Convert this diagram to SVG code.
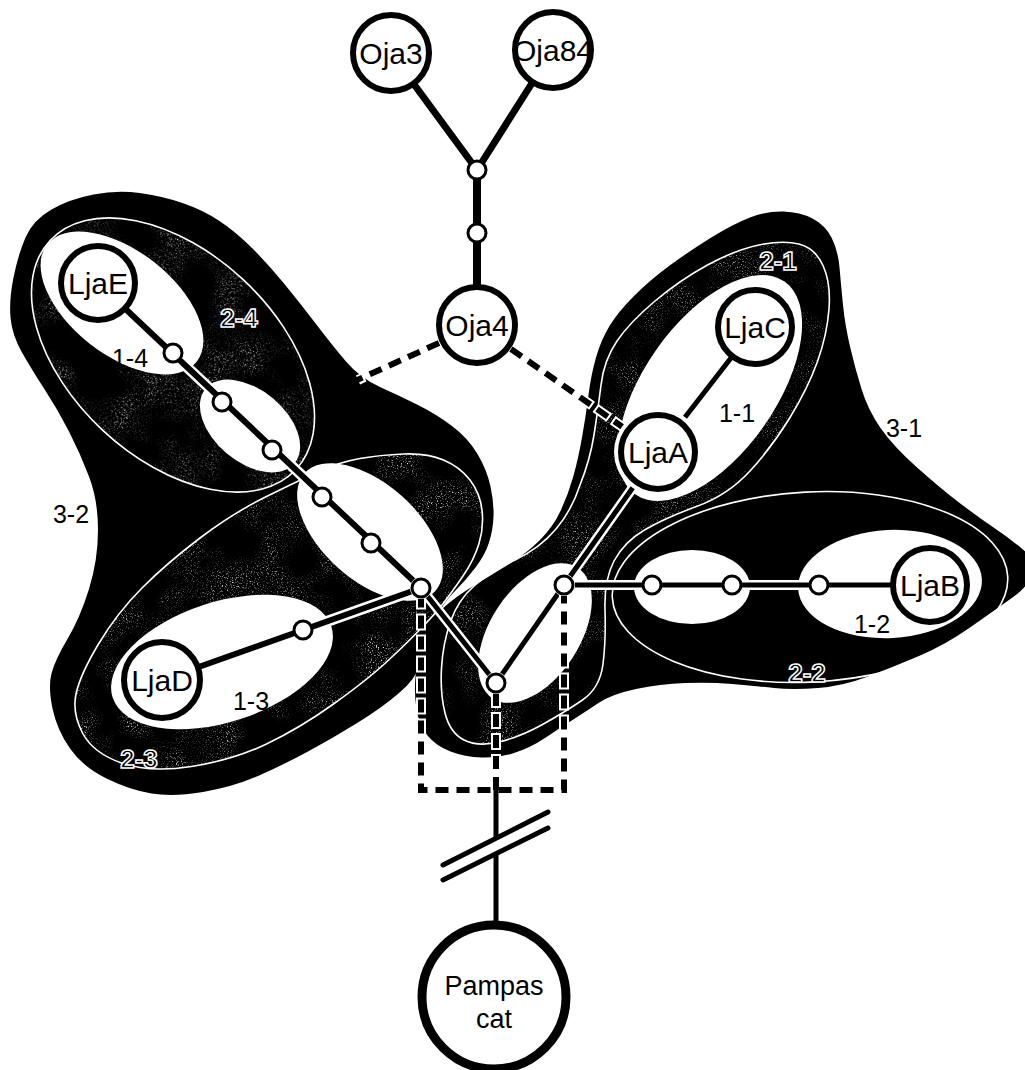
<svg xmlns="http://www.w3.org/2000/svg" width="1025" height="1070" viewBox="0 0 1025 1070">
  <defs>
    <style>
      .blob { fill: #000; }
      .grain { fill: #000; filter: url(#grain); opacity: 0.9; }
      .ring { fill: none; stroke: #fff; stroke-width: 1.6; }
      .hole { fill: #fff; }
      .casing { fill: none; stroke: #fff; stroke-linecap: round; stroke-linejoin: round; }
      .edge { fill: none; stroke: #000; stroke-linecap: round; stroke-linejoin: round; }
      .dash-case { fill: none; stroke: #fff; stroke-width: 10; stroke-dasharray: 17 4; }
      .dash { fill: none; stroke: #000; stroke-width: 6; stroke-dasharray: 13 8; }
      .node circle.body { fill: #fff; stroke: #000; stroke-width: 6; }
      .node circle.halo { fill: #fff; }
      .dot { fill: #fff; stroke: #000; stroke-width: 3; }
      .dothalo { fill: #fff; }
      text { font-family: "Liberation Sans", Arial, sans-serif; fill: #000; text-anchor: middle; }
      .name { font-size: 30px; }
      .lab { font-size: 25px; }
      .lab2 { font-size: 26px; font-weight: bold; fill: #000; stroke: #fff; stroke-width: 1.5; }
      .pc { font-size: 27px; }
    </style>
    <!-- patchy speckle used inside the second-level clades -->
    <filter id="grain" filterUnits="userSpaceOnUse" x="0" y="0" width="1025" height="1070">
      <feTurbulence type="fractalNoise" baseFrequency="0.8" numOctaves="2" seed="7" result="fine"/>
      <feColorMatrix in="fine" type="matrix" values="0 0 0 0 1  0 0 0 0 1  0 0 0 0 1  4 0 0 0 -2.2" result="dots"/>
      <feTurbulence type="fractalNoise" baseFrequency="0.025" numOctaves="2" seed="3" result="coarse"/>
      <feColorMatrix in="coarse" type="matrix" values="0 0 0 0 0  0 0 0 0 0  0 0 0 0 0  3 0 0 0 -1.2" result="mask"/>
      <feComposite in="dots" in2="mask" operator="in" result="patchy"/>
      <feComposite in="patchy" in2="SourceAlpha" operator="in"/>
    </filter>
  </defs>

  <rect width="1025" height="1070" fill="#fff"/>

  <!-- clade 3-2: outer black body of the left group -->
  <g id="clade-3-2">
    <path class="blob" d="M 25.5 237.5 Q 33 220 51.5 209.5 Q 70 199 93.5 194.5 Q 117 190 139.5 193 Q 162 196 182.5 203 Q 203 210 219.5 221 Q 236 232 252 248 Q 268 264 284 283.5 Q 300 303 316 324 Q 332 345 346 361.5 Q 360 378 380 387 Q 400 396 418 405 Q 436 414 452 426 Q 468 438 477.5 454 Q 487 470 490.5 486.5 Q 494 503 493.5 516.5 Q 493 530 489 542.5 Q 485 555 475.5 567.5 Q 466 580 456 590 Q 446 600 441 609 Q 436 618 432 631.5 Q 428 645 421.5 662.5 Q 415 680 399 693 Q 383 707 358 722.5 Q 333 738 308 751.5 Q 283 765 258 776 Q 233 787 203 792 Q 173 797 151.5 793.5 Q 130 790 106.5 778.5 Q 83 767 70 748.5 Q 57 730 52.5 708.5 Q 48 687 51.5 673.5 Q 55 660 67.5 639 Q 80 618 89 589 Q 98 560 98 530 Q 98 500 89 476.5 Q 80 453 69 431.5 Q 58 410 45 390 Q 32 370 22 352.5 Q 12 335 10.5 317.5 Q 9 300 13.5 277.5 Q 18 255 25.5 237.5 Z"/>
  </g>

  <!-- clade 3-1: outer black body of the right group -->
  <g id="clade-3-1">
    <path class="blob" d="M 750 217.5 Q 767 211 783.5 211.5 Q 800 212 812.5 218.5 Q 825 225 831.5 237.5 Q 838 250 839.5 267.5 Q 841 285 843 305 Q 845 325 850 346.5 Q 855 368 861.5 389 Q 868 410 880.5 428 Q 893 446 916.5 467 Q 940 488 959 502.5 Q 978 517 995 528.5 Q 1012 540 1023.5 550 Q 1035 560 1032.5 572.5 Q 1030 585 1012.5 597.5 Q 995 610 970 627.5 Q 945 645 919 656 Q 893 667 868 676.5 Q 843 686 818 688 Q 793 690 774 688 Q 755 686 732.5 684 Q 710 682 685 683 Q 660 684 636 689 Q 612 694 598.5 703 Q 585 712 572.5 720 Q 560 728 545 738 Q 530 748 514 753 Q 498 758 481.5 757.5 Q 465 757 450.5 751.5 Q 436 746 427.5 735.5 Q 419 725 416.5 709 Q 414 693 415.5 676.5 Q 417 660 420.5 646 Q 424 632 431 622 Q 438 612 449 603 Q 460 594 476.5 584 Q 493 574 510 563.5 Q 527 553 540 540 Q 553 527 560.5 511 Q 568 495 573 477.5 Q 578 460 582 437.5 Q 586 415 588.5 395 Q 591 375 596 357.5 Q 601 340 609.5 326 Q 618 312 634 296 Q 650 280 669 266 Q 688 252 710.5 238 Q 733 224 750 217.5 Z"/>
  </g>

  <!-- second-level clades: speckled interiors and thin white borders -->
  <g id="clade-2-4">
    <ellipse class="grain" cx="173" cy="355" rx="168" ry="103" transform="rotate(43 173 355)"/>
    <ellipse class="ring" cx="173" cy="355" rx="168" ry="103" transform="rotate(43 173 355)"/>
  </g>
  <g id="clade-2-3">
    <path class="grain" d="M 266.5 496.5 Q 300 480 320 471 Q 340 462 360 458.5 Q 380 455 403.5 454 Q 427 453 443.5 460 Q 460 467 470 480 Q 480 493 482 510 Q 484 527 479 543.5 Q 474 560 463 576 Q 452 592 444 602.5 Q 436 613 420.5 629 Q 405 645 386 662.5 Q 367 680 333.5 704 Q 300 728 266.5 744 Q 233 760 191.5 766.5 Q 150 773 121.5 763 Q 93 753 82.5 733 Q 72 713 76 694 Q 80 675 98.5 644 Q 117 613 142 588 Q 167 563 200 538 Q 233 513 266.5 496.5 Z"/>
    <path class="ring" d="M 266.5 496.5 Q 300 480 320 471 Q 340 462 360 458.5 Q 380 455 403.5 454 Q 427 453 443.5 460 Q 460 467 470 480 Q 480 493 482 510 Q 484 527 479 543.5 Q 474 560 463 576 Q 452 592 444 602.5 Q 436 613 420.5 629 Q 405 645 386 662.5 Q 367 680 333.5 704 Q 300 728 266.5 744 Q 233 760 191.5 766.5 Q 150 773 121.5 763 Q 93 753 82.5 733 Q 72 713 76 694 Q 80 675 98.5 644 Q 117 613 142 588 Q 167 563 200 538 Q 233 513 266.5 496.5 Z"/>
  </g>
  <g id="clade-2-1">
    <path class="grain" style="opacity:0.7" d="M 759 245 Q 783 240 799 244 Q 815 248 823 265.5 Q 831 283 829 309 Q 827 335 817.5 361.5 Q 808 388 790 417.5 Q 772 447 750 471 Q 728 495 696.5 506.5 Q 665 518 644.5 530 Q 624 542 614 561 Q 604 580 605 610 Q 606 640 603 664 Q 600 688 582.5 700 Q 565 712 542.5 724.5 Q 520 737 499 742 Q 478 747 464 740 Q 450 733 445 713 Q 440 693 441.5 668 Q 443 643 450.5 621.5 Q 458 600 474 586 Q 490 572 515 560 Q 540 548 556 529 Q 572 510 580 485 Q 590 460 594 435 Q 598 410 601 385 Q 604 360 617 341 Q 630 322 655 301 Q 680 280 707.5 265 Q 735 250 759 245 Z"/>
    <path class="ring" d="M 759 245 Q 783 240 799 244 Q 815 248 823 265.5 Q 831 283 829 309 Q 827 335 817.5 361.5 Q 808 388 790 417.5 Q 772 447 750 471 Q 728 495 696.5 506.5 Q 665 518 644.5 530 Q 624 542 614 561 Q 604 580 605 610 Q 606 640 603 664 Q 600 688 582.5 700 Q 565 712 542.5 724.5 Q 520 737 499 742 Q 478 747 464 740 Q 450 733 445 713 Q 440 693 441.5 668 Q 443 643 450.5 621.5 Q 458 600 474 586 Q 490 572 515 560 Q 540 548 556 529 Q 572 510 580 485 Q 590 460 594 435 Q 598 410 601 385 Q 604 360 617 341 Q 630 322 655 301 Q 680 280 707.5 265 Q 735 250 759 245 Z"/>
  </g>
  <g id="clade-2-2">
    <ellipse class="ring" cx="810" cy="587" rx="198" ry="95" transform="rotate(-3 810 587)"/>
  </g>

  <!-- first-level clades: white ellipses -->
  <g id="clade-1">
    <ellipse class="hole" cx="122" cy="303" rx="95" ry="52" transform="rotate(38 122 303)"/>
    <ellipse class="hole" cx="250" cy="426" rx="58" ry="36" transform="rotate(40 250 426)"/>
    <ellipse class="hole" cx="370" cy="532" rx="88" ry="48" transform="rotate(42 370 532)"/>
    <ellipse class="hole" cx="222" cy="662" rx="115" ry="60" transform="rotate(-18 222 662)"/>
    <ellipse class="hole" cx="710" cy="388" rx="130" ry="66" transform="rotate(-55 710 388)"/>
    <ellipse class="hole" cx="535" cy="633" rx="78" ry="45" transform="rotate(-57 535 633)"/>
    <ellipse class="hole" cx="692" cy="587" rx="58" ry="37"/>
    <ellipse class="hole" cx="890" cy="584" rx="92" ry="54" transform="rotate(-3 890 584)"/>
  </g>

  <!-- connectors -->
  <g id="connectors">
    <path class="casing" stroke-width="12" d="M 391 53 L 477 170 L 553 50"/>
    <path class="casing" stroke-width="13" d="M 477 170 V 325"/>
    <path class="casing" stroke-width="11" d="M 98 283 L 421 588"/>
    <path class="casing" stroke-width="11" d="M 162 680 L 303 630 L 421 588"/>
    <path class="casing" stroke-width="10" d="M 421 588 L 496 683 L 564 585 L 658 452 L 755 327"/>
    <path class="casing" stroke-width="10" d="M 564 585 H 930"/>

    <path class="edge" stroke-width="7" d="M 391 53 L 477 170 L 553 50"/>
    <path class="edge" stroke-width="8" d="M 477 170 V 325"/>
    <path class="edge" stroke-width="6" d="M 98 283 L 421 588"/>
    <path class="edge" stroke-width="6" d="M 162 680 L 303 630 L 421 588"/>
    <path class="edge" stroke-width="5" d="M 421 588 L 496 683 L 564 585 L 658 452 L 755 327"/>
    <path class="edge" stroke-width="5" d="M 564 585 H 930"/>

    <!-- dashed links -->
    <path class="dash-case" stroke-dashoffset="2" d="M 439 343 L 358 380"/>
    <path class="dash-case" stroke-dashoffset="2" d="M 511 349 L 624 428"/>
    <path class="dash-case" stroke-dashoffset="5.5" d="M 421 598 V 790 H 564 V 595"/>
    <path class="dash-case" stroke-dashoffset="2" d="M 496 693 V 790"/>
    <path class="dash" d="M 439 343 L 355 381"/>
    <path class="dash" d="M 511 349 L 624 428"/>
    <path class="dash" stroke-dashoffset="3.5" d="M 421 598 V 790 H 564 V 595"/>
    <path class="dash" d="M 496 693 V 790"/>

    <!-- long branch to the outgroup, with break marks -->
    <line class="edge" stroke-width="5" stroke-linecap="butt" x1="496" y1="790" x2="496" y2="924"/>
    <polygon fill="#fff" points="443,865 548,812 548,828 443,880"/>
    <line class="edge" stroke-width="5" stroke-linecap="butt" x1="443" y1="865" x2="548" y2="812"/>
    <line class="edge" stroke-width="5" stroke-linecap="butt" x1="443" y1="880" x2="548" y2="828"/>
  </g>

  <!-- unsampled intermediate haplotypes -->
  <g id="intermediates">
    <g id="mv1"><circle class="dot" cx="477" cy="170" r="9"/></g>
    <g id="mv2"><circle class="dot" cx="477" cy="233" r="9"/></g>
    <g id="mv3"><circle class="dot" cx="173" cy="353" r="9"/></g>
    <g id="mv4"><circle class="dot" cx="222" cy="402" r="9"/></g>
    <g id="mv5"><circle class="dot" cx="272" cy="450" r="9"/></g>
    <g id="mv6"><circle class="dot" cx="322" cy="497" r="9"/></g>
    <g id="mv7"><circle class="dot" cx="371" cy="543" r="9"/></g>
    <g id="mv8"><circle class="dothalo" cx="421" cy="588" r="11"/><circle class="dot" cx="421" cy="588" r="9"/></g>
    <g id="mv9"><circle class="dot" cx="303" cy="630" r="9"/></g>
    <g id="mv10"><circle class="dothalo" cx="496" cy="683" r="11"/><circle class="dot" cx="496" cy="683" r="9"/></g>
    <g id="mv11"><circle class="dothalo" cx="564" cy="585" r="11"/><circle class="dot" cx="564" cy="585" r="9"/></g>
    <g id="mv12"><circle class="dot" cx="652" cy="585" r="9"/></g>
    <g id="mv13"><circle class="dot" cx="732" cy="585" r="9"/></g>
    <g id="mv14"><circle class="dot" cx="819" cy="585" r="9"/></g>
  </g>

  <!-- sampled haplotypes -->
  <g id="Oja3" class="node"><circle class="body" cx="391" cy="53" r="38"/><text class="name" x="391" y="64">Oja3</text></g>
  <g id="Oja84" class="node"><circle class="body" cx="553" cy="50" r="38"/><text class="name" x="553" y="61">Oja84</text></g>
  <g id="Oja4" class="node"><circle class="body" cx="477" cy="325" r="38"/><text class="name" x="477" y="336">Oja4</text></g>
  <g id="LjaE" class="node"><circle class="body" cx="98" cy="283" r="37"/><text class="name" x="98" y="294">LjaE</text></g>
  <g id="LjaC" class="node"><circle class="body" cx="755" cy="327" r="37"/><text class="name" x="755" y="338">LjaC</text></g>
  <g id="LjaA" class="node"><circle class="halo" cx="658" cy="452" r="44"/><circle class="body" cx="658" cy="452" r="37"/><text class="name" x="658" y="463">LjaA</text></g>
  <g id="LjaB" class="node"><circle class="body" cx="930" cy="585" r="37"/><text class="name" x="930" y="596">LjaB</text></g>
  <g id="LjaD" class="node"><circle class="body" cx="162" cy="680" r="38"/><text class="name" x="162" y="691">LjaD</text></g>
  <g id="Pampas-cat" class="node"><circle class="body" cx="494" cy="997" r="72" style="stroke-width:9"/><text class="pc" x="494" y="995">Pampas</text><text class="pc" x="494" y="1028">cat</text></g>

  <!-- clade labels -->
  <g id="labels">
    <text class="lab" x="737" y="422">1-1</text>
    <text class="lab" x="872" y="633">1-2</text>
    <text class="lab" x="251" y="710">1-3</text>
    <text class="lab" x="130" y="367">1-4</text>
    <text class="lab2" x="778" y="270">2-1</text>
    <text class="lab2" x="807" y="682">2-2</text>
    <text class="lab2" x="139" y="768">2-3</text>
    <text class="lab2" x="239" y="327">2-4</text>
    <text class="lab" x="904" y="437">3-1</text>
    <text class="lab" x="71" y="523">3-2</text>
  </g>
</svg>
